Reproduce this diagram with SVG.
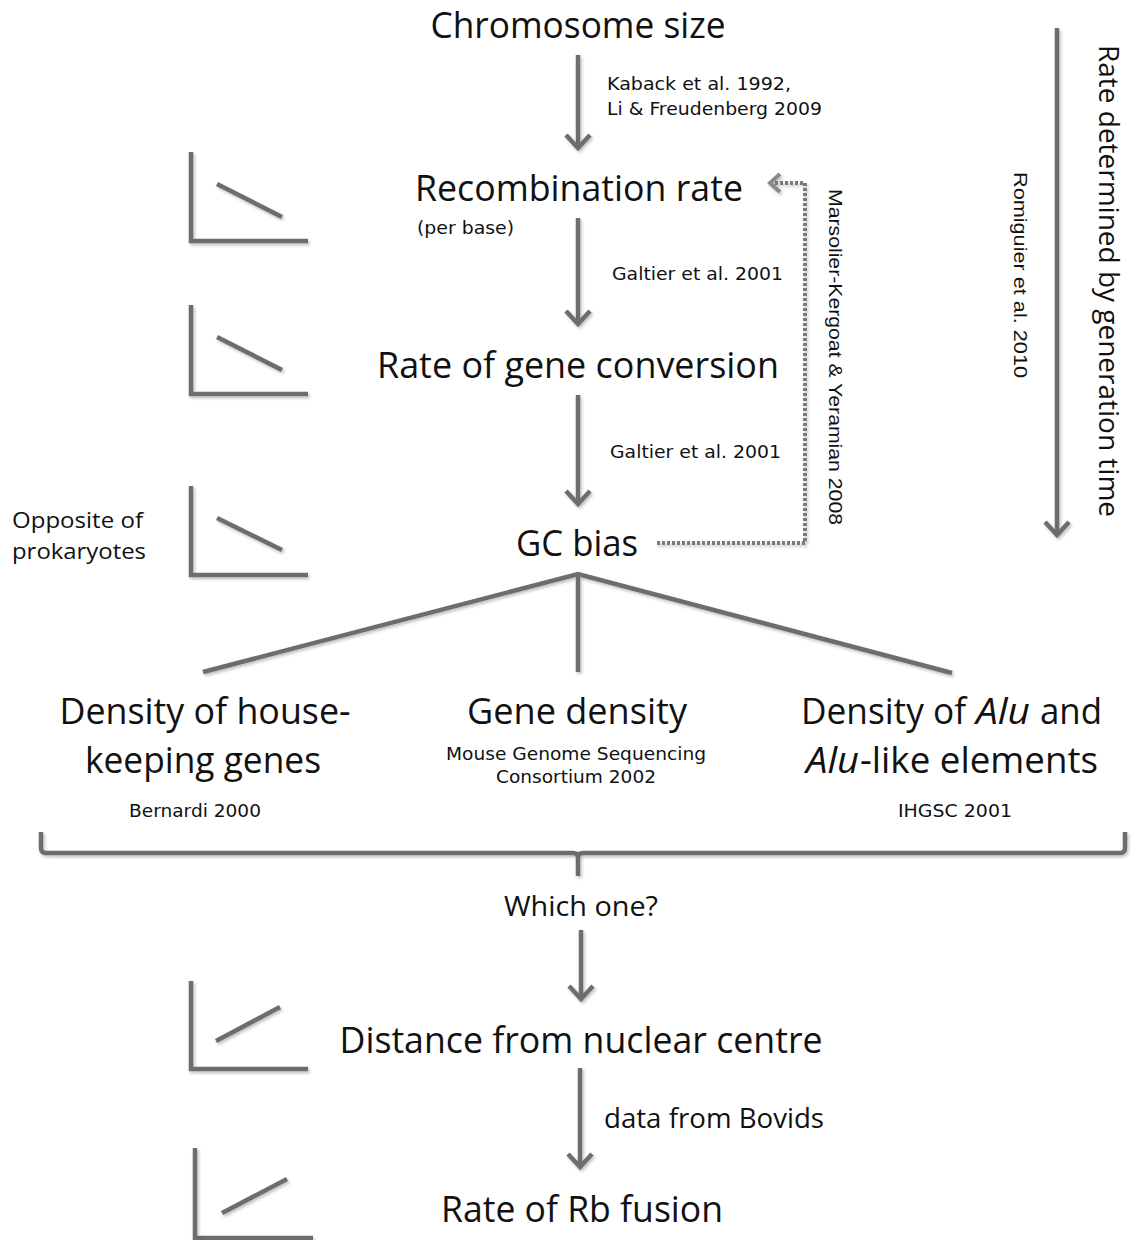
<svg xmlns="http://www.w3.org/2000/svg" width="1131" height="1240" viewBox="0 0 1131 1240">
<style>
.t{font-family:"Open Sans","Liberation Sans",sans-serif;fill:#111;}
.big{font-size:37px;}
.mid{font-size:27px;}
.it{font-style:italic;}
.sm{font-family:"DejaVu Sans","Liberation Sans",sans-serif;font-size:18px;fill:#111;}
.ar{font-family:"Liberation Sans",Arial,sans-serif;fill:#111;}
.ln{stroke:#6d6d6d;stroke-width:4.5;fill:none;stroke-linecap:butt;}
.dot{stroke:#7a7a7a;stroke-width:4;fill:none;stroke-dasharray:3 2;}
</style>
<defs>
<filter id="sh" x="-20%" y="-20%" width="140%" height="140%">
<feDropShadow dx="1.5" dy="2" stdDeviation="1.5" flood-color="#000" flood-opacity="0.25"/>
</filter>
<marker id="ah" markerUnits="userSpaceOnUse" viewBox="-18 -16 22 32" markerWidth="22" markerHeight="32" refX="0" refY="0" orient="auto">
<path d="M-13,-12 L0,0 L-13,12" fill="none" stroke="#6d6d6d" stroke-width="4.5"/>
</marker>
<marker id="ahd" markerUnits="userSpaceOnUse" viewBox="-18 -16 22 32" markerWidth="22" markerHeight="32" refX="0" refY="0" orient="auto">
<path d="M-10,-9 L0,0 L-10,9" fill="none" stroke="#8a8a8a" stroke-width="4"/>
</marker>
</defs>
<rect width="1131" height="1240" fill="#fff"/>

<g id="connectors" filter="url(#sh)">
<line class="ln" x1="578" y1="55" x2="578" y2="148" marker-end="url(#ah)"/>
<line class="ln" x1="578" y1="218" x2="578" y2="324" marker-end="url(#ah)"/>
<line class="ln" x1="578" y1="395" x2="578" y2="504" marker-end="url(#ah)"/>
<line class="ln" x1="581" y1="930" x2="581" y2="999" marker-end="url(#ah)"/>
<line class="ln" x1="580" y1="1068" x2="580" y2="1167" marker-end="url(#ah)"/>
<line class="ln" x1="1057" y1="28" x2="1057" y2="535" marker-end="url(#ah)"/>
<polyline class="dot" points="657,543 805,543 805,183 770,183" marker-end="url(#ahd)"/>
<path class="ln" d="M203,672 L578,574 L952,673 M578,574 L578,672"/>
<path class="ln" d="M41,832 L41,848 Q41,853 46,853 L573,853 Q578,853 578,858 L578,876 M578,858 Q578,853 583,853 L1120,853 Q1125,853 1125,848 L1125,832"/>
</g>

<g id="chart1" filter="url(#sh)"><path class="ln" d="M191,152 L191,241 L308,241 M217,184 L282,217"/></g>
<g id="chart2" filter="url(#sh)"><path class="ln" d="M191,305 L191,394 L308,394 M217,337 L282,370"/></g>
<g id="chart3" filter="url(#sh)"><path class="ln" d="M191,486 L191,575 L308,575 M217,518 L282,550"/></g>
<g id="chart4" filter="url(#sh)"><path class="ln" d="M191,981 L191,1069 L308,1069 M216,1041 L280,1007"/></g>
<g id="chart5" filter="url(#sh)"><path class="ln" d="M195,1148 L195,1238 L313,1238 M222,1213 L287,1179"/></g>

<g id="n-chromosome"><text class="t big" x="578" y="38" text-anchor="middle" textLength="295" lengthAdjust="spacingAndGlyphs">Chromosome size</text></g>
<g id="l-kaback"><text class="sm" x="607" y="90" textLength="184" lengthAdjust="spacingAndGlyphs">Kaback et al. 1992,</text><text class="sm" x="607" y="115" textLength="215" lengthAdjust="spacingAndGlyphs">Li &amp; Freudenberg 2009</text></g>
<g id="n-recombination"><text class="t big" x="579" y="201" text-anchor="middle" textLength="328" lengthAdjust="spacingAndGlyphs">Recombination rate</text><text class="sm" x="417" y="234" textLength="97" lengthAdjust="spacingAndGlyphs">(per base)</text></g>
<g id="l-galtier1"><text class="sm" x="612" y="280" textLength="171" lengthAdjust="spacingAndGlyphs">Galtier et al. 2001</text></g>
<g id="n-geneconv"><text class="t big" x="578" y="378" text-anchor="middle" textLength="402" lengthAdjust="spacingAndGlyphs">Rate of gene conversion</text></g>
<g id="l-galtier2"><text class="sm" x="610" y="458" textLength="171" lengthAdjust="spacingAndGlyphs">Galtier et al. 2001</text></g>
<g id="n-gcbias"><text class="t big" x="577" y="556" text-anchor="middle" textLength="122" lengthAdjust="spacingAndGlyphs">GC bias</text></g>
<g id="l-opposite"><text class="t" font-size="22" x="12" y="528" textLength="131" lengthAdjust="spacingAndGlyphs">Opposite of</text><text class="t" font-size="22" x="12" y="559" textLength="134" lengthAdjust="spacingAndGlyphs">prokaryotes</text></g>
<g id="l-marsolier"><text class="ar" font-size="19" transform="translate(829,189) rotate(90)" textLength="336" lengthAdjust="spacingAndGlyphs">Marsolier-Kergoat &amp; Yeramian 2008</text></g>
<g id="l-romiguier"><text class="ar" font-size="18" transform="translate(1014,172) rotate(90)" textLength="206" lengthAdjust="spacingAndGlyphs">Romiguier et al. 2010</text></g>
<g id="l-generation"><text class="t" font-size="27" transform="translate(1099,45) rotate(90)" textLength="472" lengthAdjust="spacingAndGlyphs">Rate determined by generation time</text></g>

<g id="n-housekeeping"><text class="t big" x="205" y="724" text-anchor="middle" textLength="291" lengthAdjust="spacingAndGlyphs">Density of house-</text><text class="t big" x="203" y="773" text-anchor="middle" textLength="236" lengthAdjust="spacingAndGlyphs">keeping genes</text><text class="sm" x="195" y="817" text-anchor="middle" textLength="132" lengthAdjust="spacingAndGlyphs">Bernardi 2000</text></g>
<g id="n-genedensity"><text class="t big" x="577" y="724" text-anchor="middle" textLength="220" lengthAdjust="spacingAndGlyphs">Gene density</text><text class="sm" x="576" y="760" text-anchor="middle" textLength="260" lengthAdjust="spacingAndGlyphs">Mouse Genome Sequencing</text><text class="sm" x="576" y="783" text-anchor="middle" textLength="160" lengthAdjust="spacingAndGlyphs">Consortium 2002</text></g>
<g id="n-alu">
<text class="t big" x="801" y="724" textLength="165" lengthAdjust="spacingAndGlyphs">Density of</text>
<text class="t big it" x="976" y="724" textLength="54" lengthAdjust="spacingAndGlyphs">Alu</text>
<text class="t big" x="1040" y="724" textLength="62" lengthAdjust="spacingAndGlyphs">and</text>
<text class="t big it" x="806" y="773" textLength="53" lengthAdjust="spacingAndGlyphs">Alu</text>
<text class="t big" x="860" y="773" textLength="238" lengthAdjust="spacingAndGlyphs">-like elements</text>
<text class="sm" x="955" y="817" text-anchor="middle" textLength="114" lengthAdjust="spacingAndGlyphs">IHGSC 2001</text>
</g>

<g id="n-whichone"><text class="t mid" x="581" y="916" text-anchor="middle" textLength="154" lengthAdjust="spacingAndGlyphs">Which one?</text></g>
<g id="n-distance"><text class="t big" x="581" y="1053" text-anchor="middle" textLength="483" lengthAdjust="spacingAndGlyphs">Distance from nuclear centre</text></g>
<g id="l-bovids"><text class="t mid" x="604" y="1128" textLength="220" lengthAdjust="spacingAndGlyphs">data from Bovids</text></g>
<g id="n-rbfusion"><text class="t big" x="582" y="1222" text-anchor="middle" textLength="282" lengthAdjust="spacingAndGlyphs">Rate of Rb fusion</text></g>
</svg>
